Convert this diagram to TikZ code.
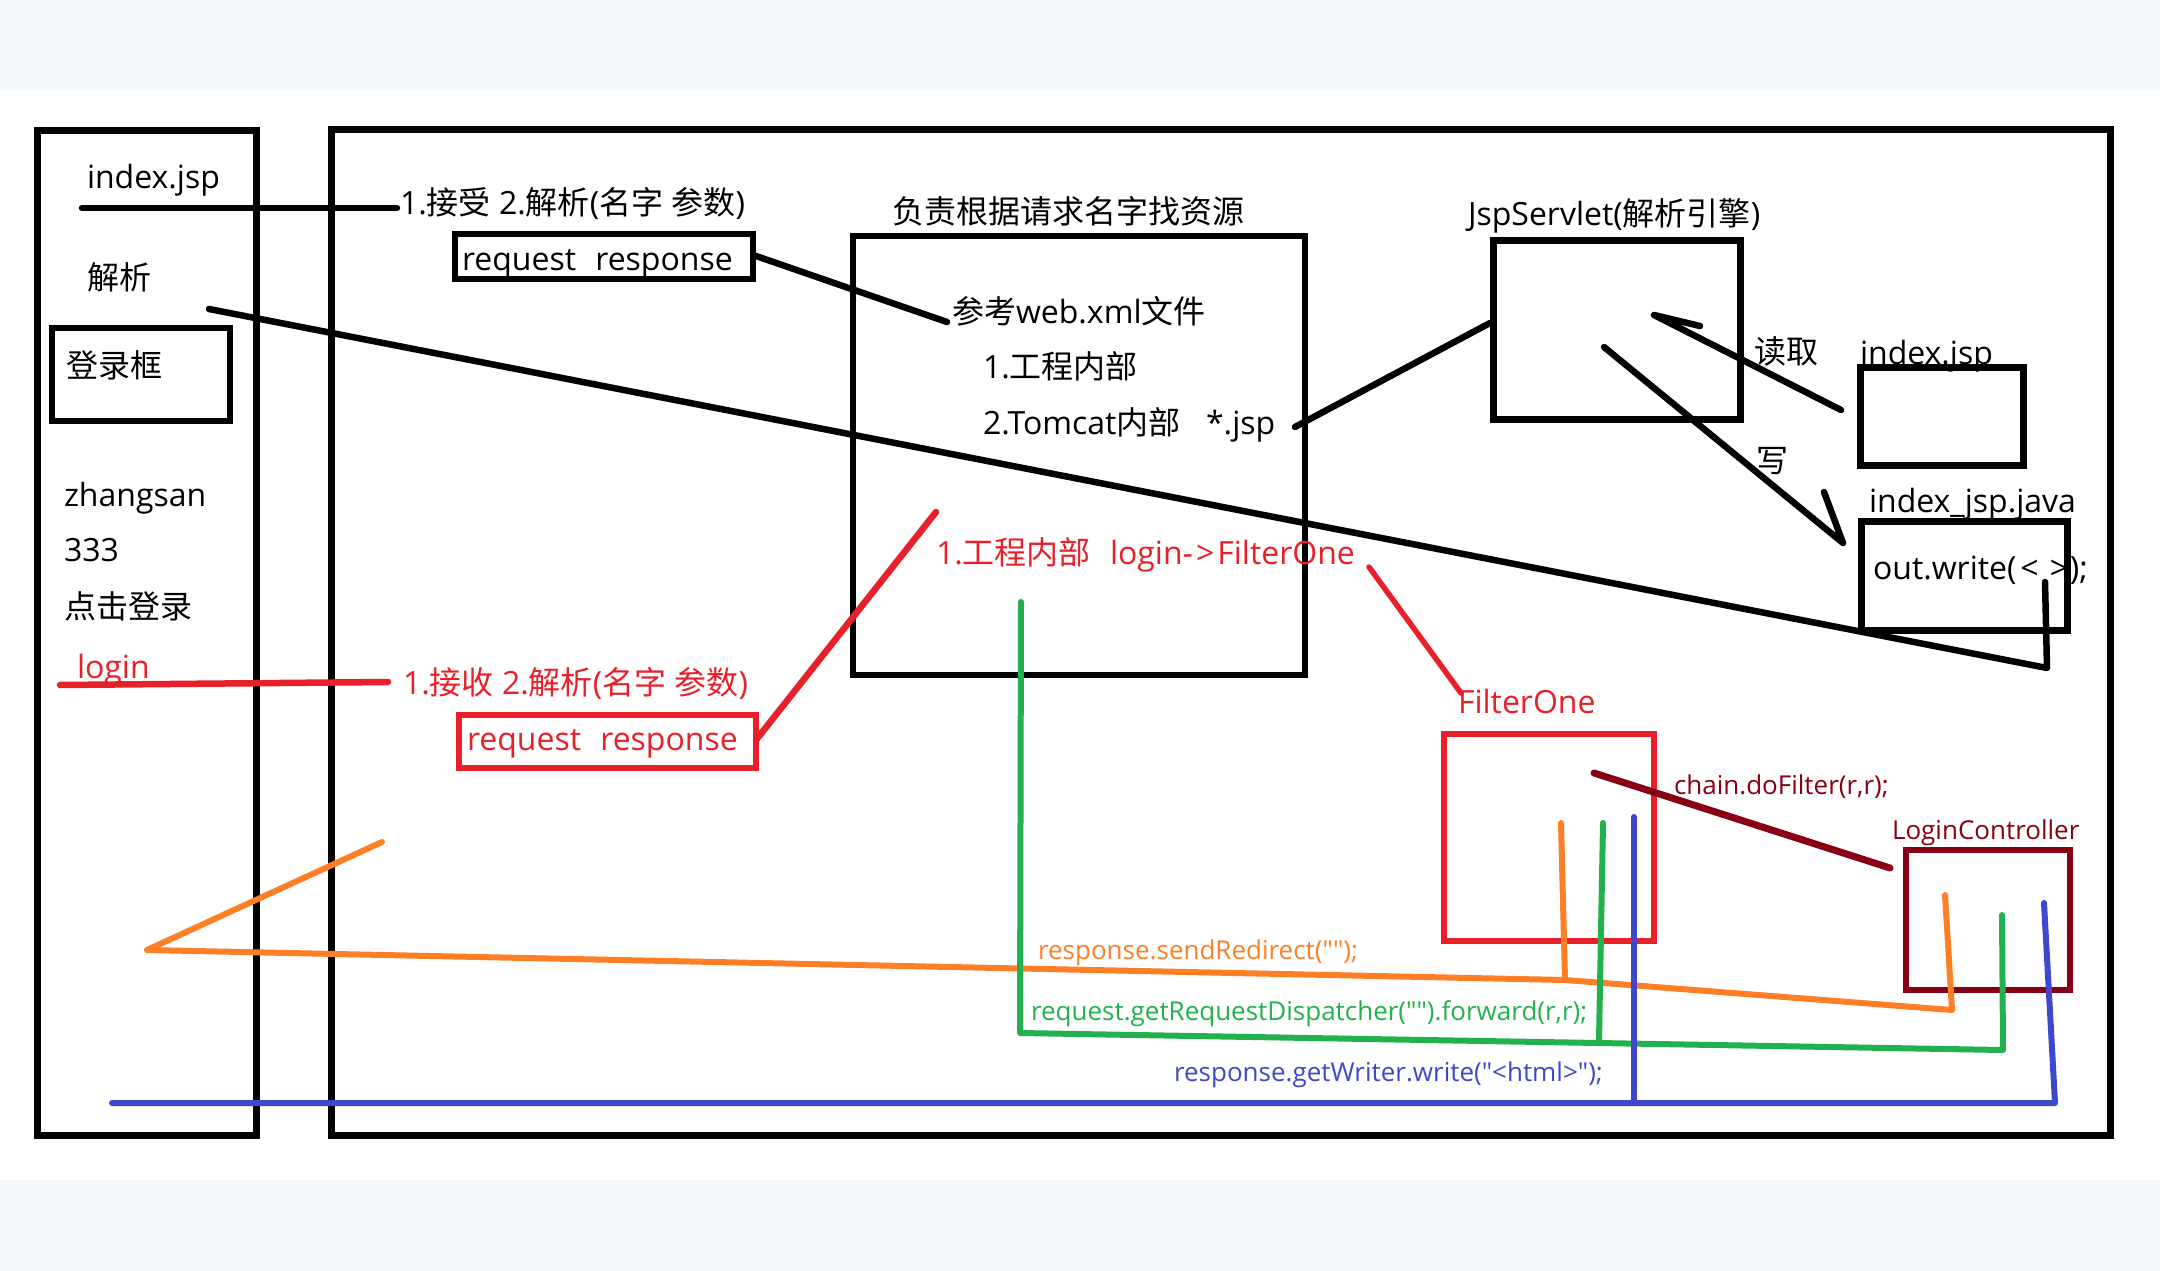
\documentclass[tikz,border=0pt]{standalone}
\usepackage{fontspec}
\setmainfont{Open Sans}[Ligatures=TeXOff]
\newfontfamily\cjkfont{Noto Sans CJK SC}
\newcommand\zh[1]{{\cjkfont #1}}
\definecolor{pred}{HTML}{E8202A}
\definecolor{porange}{HTML}{FF7F27}
\definecolor{pgreen}{HTML}{22B14C}
\definecolor{pblue}{HTML}{3F48CC}
\definecolor{pmaroon}{HTML}{880015}
\definecolor{band}{HTML}{F6F9FC}
\tikzset{
  lbl/.style={anchor=west, inner sep=0pt, outer sep=0pt, text height=28pt, text depth=4pt, font=\fontsize{32}{38}\selectfont},
  small/.style={anchor=west, inner sep=0pt, outer sep=0pt, text height=23pt, text depth=3pt, font=\fontsize{26}{31}\selectfont},
  pbox/.style={draw, line width=7pt, inner sep=0pt, outer sep=0pt, anchor=north west},
  thinbox/.style={pbox, line width=5.5pt},
  wire/.style={line width=6.5pt, line cap=round, line join=round},
  cwire/.style={line width=6pt, line cap=round, line join=round},
}
\begin{document}
\begin{tikzpicture}[x=1pt,y=-1pt]
\useasboundingbox (0,0) rectangle (2160,1271);
\fill[white] (0,0) rectangle (2160,1271);
\fill[band] (0,0) rectangle (2160,90);
\fill[band] (0,1180) rectangle (2160,1271);

% ---- boxes
\node[pbox, minimum width=219pt, minimum height=1004pt] (browser) at (37,131) {};
\node[pbox, minimum width=1779pt, minimum height=1005pt] (server) at (331,130) {};
\node[pbox, line width=6pt, minimum width=178pt, minimum height=93pt] (loginbox) at (52,328) {};
\node[thinbox, minimum width=298pt, minimum height=45pt] (reqbox) at (455,234) {};
\node[thinbox, draw=pred, minimum width=297pt, minimum height=53pt] (reqred) at (459,715) {};
\node[pbox, line width=6pt, minimum width=452pt, minimum height=439pt] (midbox) at (853,236) {};
\node[pbox, minimum width=247pt, minimum height=179pt] (jspbox) at (1493,240) {};
\node[pbox, minimum width=163pt, minimum height=98pt] (idxbox) at (1860,367) {};
\node[pbox, minimum width=206pt, minimum height=109pt] (javabox) at (1861,521) {};
\node[pbox, line width=6pt, draw=pred, minimum width=210pt, minimum height=207pt] (filterbox) at (1444,734) {};
\node[pbox, line width=6pt, draw=pmaroon, minimum width=164pt, minimum height=140pt] (lcbox) at (1906,850) {};

% ---- texts (black)
\node[lbl] (tindex) at (87,176) {index.jsp};
\node[lbl] (tparse) at (87,277) {\zh{解析}};
\node[lbl] (tlogin) at (66,365) {\zh{登录框}};
\node[lbl] (tuser) at (64,494) {zhangsan};
\node[lbl] (tpwd) at (64,549) {333};
\node[lbl] (tclick) at (64,606) {\zh{点击登录}};
\node[lbl] (tstep1) at (400,202) {1.\zh{接受} 2.\zh{解析}(\zh{名字} \zh{参数})};
\node[lbl] (treq) at (462,258) {request\hspace{0.6em}response};
\node[lbl] (tfind) at (892,211) {\zh{负责根据请求名字找资源}};
\node[lbl] (tweb) at (952,311) {\zh{参考}web.xml\zh{文件}};
\node[lbl] (tin1) at (983,366) {1.\zh{工程内部}};
\node[lbl] (tin2) at (983,422) {2.Tomcat\zh{内部}\hspace{0.8em}*.jsp};
\node[lbl] (tjsp) at (1468,213) {JspServlet(\zh{解析引擎})};
\node[lbl] (tread) at (1754,351) {\zh{读取}};
\node[lbl] (tidx2) at (1860,352) {index.jsp};
\node[lbl] (twrite) at (1756,460) {\zh{写}};
\node[lbl] (tjava) at (1869,500) {index\_jsp.java};
\node[lbl] (tout) at (1873,567) {out.write(\hspace{0.12em}<\hspace{0.35em}>\hspace{0.05em});};

% ---- texts (red)
\node[lbl, text=pred] (tloginr) at (77,666) {login};
\node[lbl, text=pred] (tstep2) at (403,682) {1.\zh{接收} 2.\zh{解析}(\zh{名字} \zh{参数})};
\node[lbl, text=pred] (treqr) at (467,738) {request\hspace{0.6em}response};
\node[lbl, text=pred] (tmap) at (936,552) {1.\zh{工程内部}\hspace{0.6em}login-\kern3pt>\kern3pt FilterOne};
\node[lbl, text=pred] (tfilter) at (1458,701) {FilterOne};

% ---- small coloured texts
\node[small, text=pmaroon] (tchain) at (1674,784) {chain.doFilter(r,r);};
\node[small, text=pmaroon] (tlc) at (1892,829) {LoginController};
\node[small, text=porange] (tredir) at (1038,949) {response.sendRedirect("");};
\node[small, text=pgreen] (tfwd) at (1031,1010) {request.getRequestDispatcher("").forward(r,r);};
\node[small, text=pblue] (thtml) at (1174,1071) {response.getWriter.write("<html>");};

% ---- coordinates for free ends
\coordinate (k1) at (82,208);
\coordinate (k2) at (397,208);
\coordinate (k3) at (756,256);
\coordinate (k4) at (947,322);
\coordinate (k5) at (209,309);
\coordinate (k6) at (2047,668);
\coordinate (k7) at (2045,582);
\coordinate (k8) at (1295,427);
\coordinate (k9) at (1490,323);
\coordinate (r1) at (1841,410);
\coordinate (r2) at (1654,315);
\coordinate (r3) at (1700,326);
\coordinate (w1) at (1604,347);
\coordinate (w2) at (1843,543);
\coordinate (w3) at (1824,492);
\coordinate (e1) at (60,685);
\coordinate (e2) at (388,682);
\coordinate (e3) at (756,740);
\coordinate (e4) at (936,512);
\coordinate (e5) at (1369,567);
\coordinate (e6) at (1461,693);
\coordinate (m1) at (1594,773);
\coordinate (m2) at (1890,868);
\coordinate (o1) at (1561,823);
\coordinate (o2) at (1565,980);
\coordinate (o3) at (147,950);
\coordinate (o4) at (382,842);
\coordinate (o5) at (1945,895);
\coordinate (o6) at (1952,1010);
\coordinate (g1) at (1021,602);
\coordinate (g2) at (1020,1033);
\coordinate (g3) at (2003,1050);
\coordinate (g4) at (2002,915);
\coordinate (g5) at (1603,823);
\coordinate (g6) at (1599,1040);
\coordinate (b1) at (112,1103);
\coordinate (b2) at (2055,1103);
\coordinate (b3) at (2044,903);
\coordinate (b4) at (1634,817);
\coordinate (b5) at (1634,1103);

% ---- black connectors
\draw[wire] (k1) -- (k2);
\draw[wire] (k3) -- (k4);
\draw[wire] (k5) -- (k6) -- (k7);
\draw[wire] (k8) -- (k9);
\draw[wire] (r1) -- (r2) -- (r3);
\draw[wire] (w1) -- (w2) -- (w3);

% ---- red connectors
\draw[wire, pred] (e1) -- (e2);
\draw[wire, pred] (e3) -- (e4);
\draw[wire, pred, line width=5.5pt] (e5) -- (e6);

% ---- maroon
\draw[wire, pmaroon, line width=7pt] (m1) -- (m2);

% ---- orange
\draw[cwire, porange] (o1) -- (o2) -- (o3) -- (o4);
\draw[cwire, porange] (o5) -- (o6) -- (o2);

% ---- green
\draw[cwire, pgreen] (g1) -- (g2) -- (g3) -- (g4);
\draw[cwire, pgreen] (g5) -- (g6);

% ---- blue
\draw[cwire, pblue] (b1) -- (b2) -- (b3);
\draw[cwire, pblue] (b4) -- (b5);
\end{tikzpicture}
\end{document}
